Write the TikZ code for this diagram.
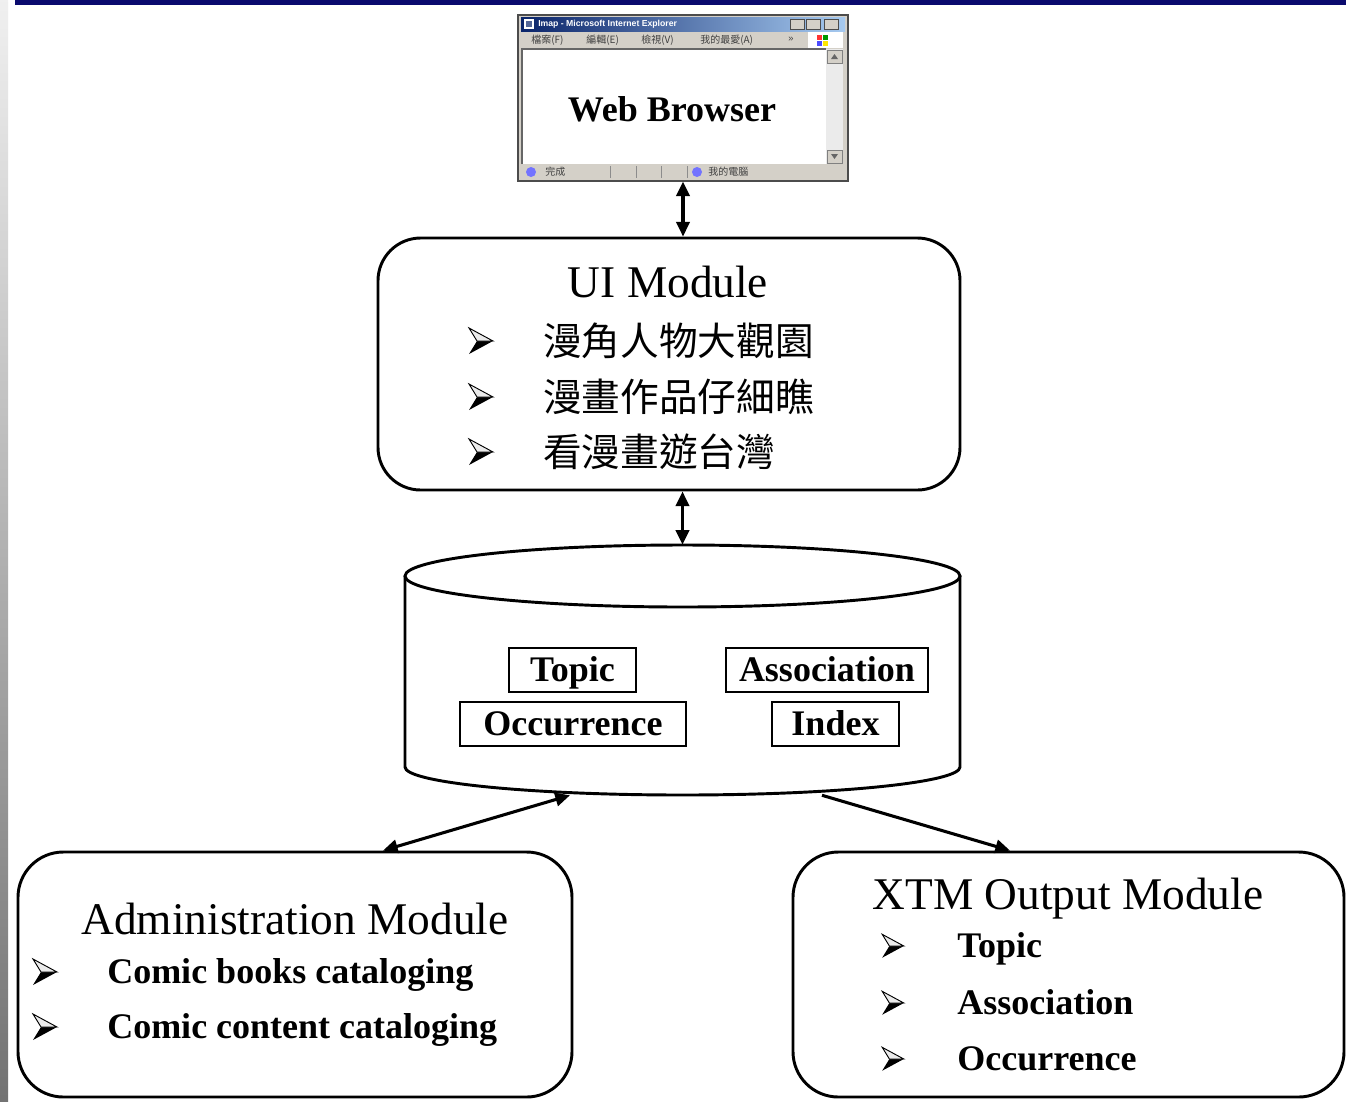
\documentclass[tikz,border=0pt]{standalone}
\usepackage{fontspec}
\setmainfont{Liberation Serif}
\newfontfamily\cjk{Noto Sans CJK TC}
\newfontfamily\uisans{Liberation Sans}
\usetikzlibrary{arrows.meta,calc}
\definecolor{navy}{HTML}{0A0A6E}
\definecolor{wingray}{HTML}{D4D0C8}
\definecolor{titleA}{HTML}{0A246A}
\definecolor{titleB}{HTML}{A6CAF0}
\begin{document}
\begin{tikzpicture}[x=0.75pt,y=-0.75pt,
  module/.style={draw, line width=2.2pt, rounded corners=32pt, inner sep=0pt},
  tbox/.style={draw, line width=1.1pt, font=\fontsize{27}{30}\selectfont\bfseries, inner sep=0pt, minimum height=33pt, text height=17.8pt, text depth=0pt},
  titletext/.style={font=\fontsize{34}{38}\selectfont, inner sep=0pt, text height=22.4pt, text depth=0pt},
  itemtext/.style={font=\fontsize{27}{30}\selectfont\bfseries, anchor=west, inner sep=0pt, text height=17.8pt, text depth=0pt},
  zhtext/.style={font=\cjk\fontsize{29}{32}\selectfont, anchor=west, inner sep=0pt},
  tinytext/.style={font=\cjk\fontsize{7.5}{8}\selectfont, anchor=west, inner sep=0pt, text=black!75},
  link/.style={line width=2.3pt, {Triangle[length=11pt,width=10pt]}-{Triangle[length=11pt,width=10pt]}},
  onelink/.style={line width=2.3pt, -{Triangle[length=11pt,width=10pt]}},
  bul/.pic={
    \fill[black] (12,0) -- (-4,0) -- (-12,13) -- cycle;
    \draw[line width=0.7pt, fill=black!8] (12,0) -- (-12,-13) -- (-4,0) -- cycle;
  }]
\useasboundingbox (0,0) rectangle (1346,1101);
\fill[white] (0,0) rectangle (1346,1101);
% page decoration
\shade[top color=black!6, bottom color=black!55] (0,0) rectangle (8,1101);
\fill[navy] (15,0) rectangle (1346,5);

% ---------------- browser window ----------------
\node (browser) [minimum width=247.5pt, minimum height=124.5pt, inner sep=0pt,
  draw=black!70, line width=0.8pt, fill=wingray] at (683,98) {};
\shade[left color=titleA, right color=titleB] (521,17) rectangle (845,31);
\fill[white] (524,19) rectangle (534,29);
\fill[titleA!70] (526,21) rectangle (532,27);
\node[font=\uisans\bfseries\fontsize{6.5}{7}\selectfont, text=white, anchor=west, inner sep=0pt] at (538,24) {Imap - Microsoft Internet Explorer};
\foreach \bx in {790,806,824}{
  \draw[fill=wingray, draw=black!70, line width=0.4pt] (\bx,19) rectangle ++(14,10);
}
\node[tinytext] at (531,40) {檔案(F)};
\node[tinytext] at (586,40) {編輯(E)};
\node[tinytext] at (641,40) {檢視(V)};
\node[tinytext] at (700,40) {我的最愛(A)};
\node[tinytext, font=\uisans\fontsize{7}{8}\selectfont] at (788,39) {»};
\fill[white] (808,32) rectangle (843,48);
\fill[red!80] (817,35) rectangle (822,40);
\fill[green!60!black] (823,35) rectangle (828,40);
\fill[blue!70] (817,41) rectangle (822,46);
\fill[yellow!90!orange] (823,41) rectangle (828,46);
% client area
\fill[white] (522,49) rectangle (826,164);
\draw[black!60, line width=0.8pt] (522,164) -- (522,49) -- (826,49);
\fill[black!8] (826,49) rectangle (843,164);
\draw[fill=wingray, draw=black!50, line width=0.4pt] (827,50) rectangle (842,63);
\draw[fill=wingray, draw=black!50, line width=0.4pt] (827,150) rectangle (842,163);
\fill[black!60] (831,59) -- (838,59) -- (834.5,54) -- cycle;
\fill[black!60] (831,154) -- (838,154) -- (834.5,159) -- cycle;
% status bar
\fill[wingray] (521,165) rectangle (845,179);
\foreach \sx in {610,636,661,687}{
  \draw[black!45, line width=0.5pt] (\sx,166) -- (\sx,178);
}
\fill[blue!55] (531,172) circle (5);
\node[tinytext] at (545,172) {完成};
\fill[blue!55] (697,172) circle (5);
\node[tinytext] at (708,172) {我的電腦};
\node (webtext) [font=\fontsize{27}{30}\selectfont\bfseries, inner sep=0pt, text height=17.8pt, text depth=0pt] at (672,110) {Web Browser};

% ---------------- UI module ----------------
\node (ui) [module, minimum width=436.5pt, minimum height=189pt] at (669,364) {};
\node (uititle) [titletext] at (668,283) {UI Module};
\pic at (481,341) {bul};
\pic at (481,397) {bul};
\pic at (481,452) {bul};
\node (ui1) [zhtext] at (543,341) {漫角人物大觀園};
\node (ui2) [zhtext] at (543,397) {漫畫作品仔細瞧};
\node (ui3) [zhtext] at (543,452) {看漫畫遊台灣};

% ---------------- database cylinder ----------------
\node (db) [minimum width=416.25pt, minimum height=187.5pt, inner sep=0pt] at (682.5,670) {};
\draw[line width=2.2pt, fill=white] (405,576) -- (405,767)
  arc[start angle=180, end angle=0, x radius=277.5, y radius=28] -- (960,576);
\draw[line width=2.2pt, fill=white] (682.5,576) ellipse [x radius=277.5, y radius=31];
\node (topic) [tbox, minimum width=95.25pt] at (572.5,670) {Topic};
\node (occ) [tbox, minimum width=169.5pt] at (573,724) {Occurrence};
\node (assoc) [tbox, minimum width=151.5pt] at (827,670) {Association};
\node (index) [tbox, minimum width=95.25pt] at (835.5,724) {Index};

% ---------------- Administration module ----------------
\node (admin) [module, rounded corners=34pt, minimum width=415.5pt, minimum height=183.75pt] at (295,974.5) {};
\node (admintitle) [titletext] at (295,920) {Administration Module};
\pic at (45,972) {bul};
\pic at (45,1027) {bul};
\node (adm1) [itemtext] at (107,972) {Comic books cataloging};
\node (adm2) [itemtext] at (107,1027) {Comic content cataloging};

% ---------------- XTM output module ----------------
\node (xtm) [module, rounded corners=34pt, minimum width=413.25pt, minimum height=183.75pt] at (1068.5,974.5) {};
\node (xtmtitle) [titletext] at (1068,895) {XTM Output Module};
\pic[scale=0.9] at (893,946) {bul};
\pic[scale=0.9] at (893,1003) {bul};
\pic[scale=0.9] at (893,1059) {bul};
\node (x1) [itemtext] at (957,946) {Topic};
\node (x2) [itemtext] at (957,1003) {Association};
\node (x3) [itemtext] at (957,1059) {Occurrence};

% ---------------- connectors ----------------
\draw[link] (browser.south) -- (browser.south |- ui.north);
\draw[link] (db.north |- ui.south) -- (db.north);
\draw[link] ($(db.south)+(-112.5,0)$) -- ($(admin.north)+(88,0)$);
\draw[onelink] ($(db.south)+(139.5,0)$) -- ($(xtm.north)+(-58.5,0)$);
\end{tikzpicture}
\end{document}
